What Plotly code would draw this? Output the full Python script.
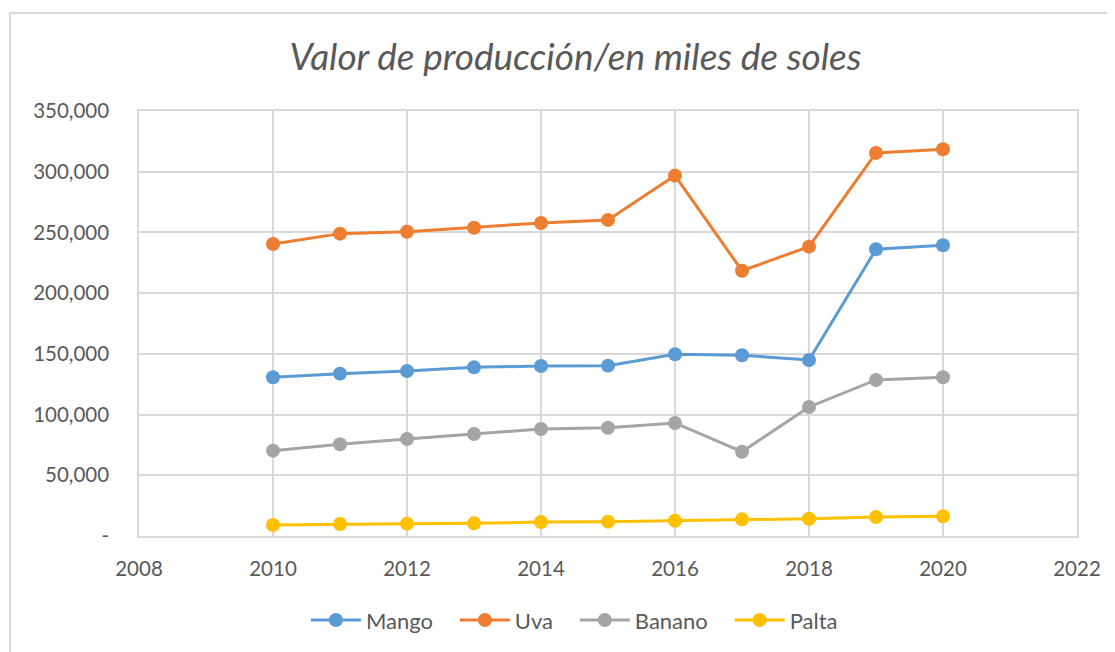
import plotly.graph_objects as go

years = [2010, 2011, 2012, 2013, 2014, 2015, 2016, 2017, 2018, 2019, 2020]
mango = [130700, 133700, 135900, 138900, 140000, 140300, 149700, 148800, 145000, 236100, 239400]
uva = [240500, 249000, 250600, 253900, 257800, 260300, 296800, 218500, 238300, 315500, 318500]
banano = [70300, 75500, 79900, 84000, 88100, 89200, 93100, 69400, 106250, 128500, 130700]
palta = [9100, 9900, 10150, 10400, 11500, 11800, 12600, 13700, 14250, 15650, 16200]

series_names = ["Mango", "Uva", "Banano", "Palta"]
series_colors = ["#5B9BD5", "#ED7D31", "#A5A5A5", "#FFC000"]
y_tickvals = [0, 50000, 100000, 150000, 200000, 250000, 300000, 350000]
y_ticktext = ["-", "50,000", "100,000", "150,000", "200,000", "250,000", "300,000", "350,000"]
x_tickvals = [2008, 2010, 2012, 2014, 2016, 2018, 2020, 2022]

font_family = "Lato, 'Open Sans', sans-serif"
text_color = "#595959"
grid_color = "#D9D9D9"

# page body has an 8px margin; compensate so the plot area lands where it should
OFF = 8
PL, PR, PT, PB = 139, 1077, 111, 536

fig = go.Figure()
for i, (name, vals, col) in enumerate(zip(series_names, [mango, uva, banano, palta], series_colors)):
    label = name + ("\u00a0\u00a0\u00a0" if i < len(series_names) - 1 else "")
    fig.add_trace(go.Scatter(
        x=years, y=vals, name=label, mode="lines+markers",
        line=dict(color=col, width=3),
        marker=dict(color=col, size=14, symbol="circle"),
    ))

fig.update_layout(
    width=1115, height=652,
    paper_bgcolor="white", plot_bgcolor="white",
    margin=dict(l=PL - OFF, r=1115 + OFF - PR, t=PT - OFF, b=652 + OFF - PB),
    font=dict(family=font_family, color=text_color, size=20),
    title=dict(
        text="<i>Valor de producción/en miles de soles</i>",
        x=0.509, xref="container", xanchor="center",
        y=0.925, yref="container", yanchor="middle",
        font=dict(size=37, color=text_color, family=font_family),
    ),
    legend=dict(
        orientation="h", x=0.508, xref="container", xanchor="center",
        y=0.061, yref="container", yanchor="middle",
        font=dict(size=22, color=text_color),
        itemwidth=50,
    ),
    showlegend=True,
)

fig.update_xaxes(
    range=[2008, 2022], tickvals=x_tickvals, showgrid=True, gridcolor=grid_color, gridwidth=1.5,
    showline=True, linecolor=grid_color, linewidth=1.5, mirror=True,
    zeroline=False, ticks="", ticklabelstandoff=14,
    tickfont=dict(size=20.5, color=text_color),
)
fig.update_yaxes(
    range=[0, 350000], tickvals=y_tickvals, ticktext=y_ticktext,
    showgrid=True, gridcolor=grid_color, gridwidth=1.5,
    showline=True, linecolor=grid_color, linewidth=1.5, mirror=True,
    zeroline=False, ticks="", ticklabelstandoff=24,
    tickfont=dict(size=20.5, color=text_color),
)

W = PR - PL
H = PB - PT
fig.add_shape(
    type="rect", xref="paper", yref="paper",
    x0=(10 - PL) / W, x1=(1125 - PL) / W,
    y0=(PB - 660) / H, y1=(PB - 13) / H,
    line=dict(color="#D9D9D9", width=2), fillcolor="rgba(0,0,0,0)", layer="below",
)

fig.write_html("out.html")
